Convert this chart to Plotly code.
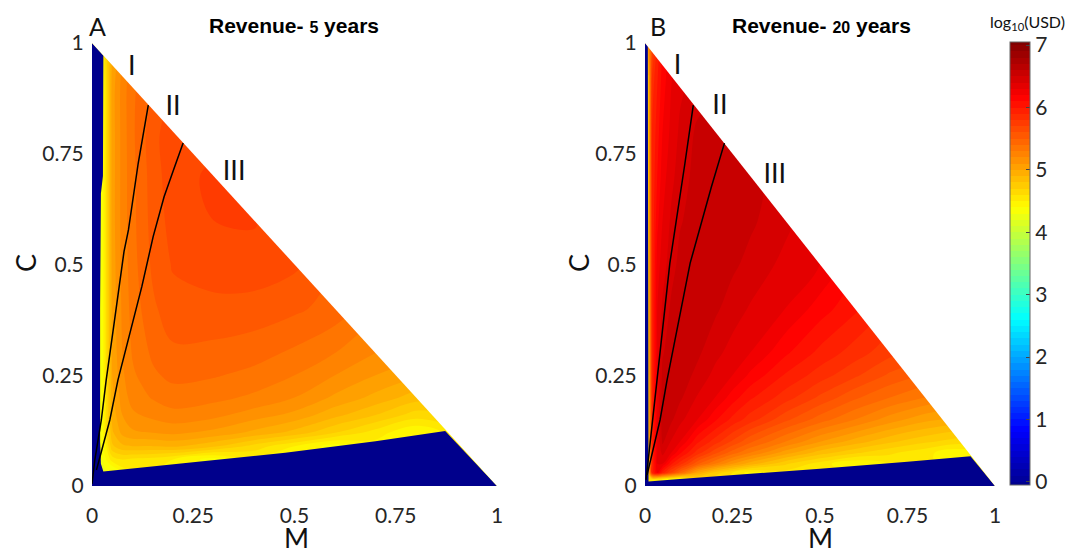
import plotly.graph_objects as go

N = None

# ---------------- Panel A : revenue after 5 years (log10 USD) ----------------
M_A = [0, 0.025, 0.035, 0.05, 0.075, 0.1, 0.15, 0.2, 0.3, 0.4, 0.5, 0.6, 0.7, 0.8, 0.9, 1.0]
C_A = [0, 0.035, 0.06, 0.09, 0.12, 0.16, 0.2, 0.25, 0.3, 0.4, 0.5, 0.6, 0.7, 0.8, 0.9, 1.0]
Z_A = [
    [N, N, N, N, N, N, N, N, N, N, N, N, N, N, N, N],
    [N, 4.3, 4.3, 4.3, N, N, N, N, N, N, N, N, N, N, N, N],
    [N, 4.3, 4.4, 4.55, 4.6, 4.58, 4.56, 4.5, 4.35, N, N, N, N, N, N, N],
    [N, 4.35, 4.5, 4.78, 4.88, 4.9, 4.9, 4.92, 4.82, 4.66, 4.5, 4.35, N, N, N, N],
    [N, 4.35, 4.58, 4.88, 5.03, 5.08, 5.1, 5.12, 5.07, 4.97, 4.86, 4.7, 4.55, 4.4, N, N],
    [N, 4.35, 4.6, 4.94, 5.1, 5.18, 5.23, 5.27, 5.23, 5.15, 5.07, 4.93, 4.8, 4.65, N, N],
    [N, 4.35, 4.6, 4.97, 5.15, 5.24, 5.31, 5.35, 5.33, 5.28, 5.2, 5.08, 4.97, 4.85, N, N],
    [N, 4.35, 4.6, 5.0, 5.18, 5.28, 5.38, 5.43, 5.41, 5.37, 5.3, 5.2, 5.1, N, N, N],
    [N, 4.35, 4.6, 5.02, 5.2, 5.31, 5.42, 5.48, 5.47, 5.44, 5.38, 5.3, 5.2, N, N, N],
    [N, 4.35, 4.6, 5.03, 5.22, 5.34, 5.48, 5.56, 5.57, 5.56, 5.52, 5.46, N, N, N, N],
    [N, 4.35, 4.6, 5.04, 5.23, 5.36, 5.52, 5.61, 5.65, 5.66, 5.62, N, N, N, N, N],
    [N, 4.35, 4.6, 5.05, 5.24, 5.37, 5.54, 5.64, 5.7, 5.71, N, N, N, N, N, N],
    [N, 4.35, 4.6, 5.05, 5.24, 5.37, 5.55, 5.66, 5.72, N, N, N, N, N, N, N],
    [N, 4.35, 4.6, 5.05, 5.24, 5.38, 5.56, 5.67, N, N, N, N, N, N, N, N],
    [N, 4.35, 4.6, 5.05, 5.24, 5.38, N, N, N, N, N, N, N, N, N, N],
    [N, N, N, N, N, N, N, N, N, N, N, N, N, N, N, N],
]
# zero-revenue zone (log10 = 0) outline
A_ZERO_M = [0, 0, 0.028, 0.027, 0.022, 0.02, 0.02, 0.022, 0.028, 0.2, 0.477, 0.7, 0.872, 1.0, 0]
A_ZERO_C = [0, 1.0, 0.972, 0.7, 0.66, 0.4, 0.1, 0.05, 0.033, 0.049, 0.075, 0.101, 0.124, 0, 0]
# boundary lines I / II
A_L1_M = [0.0, 0.007, 0.023, 0.035, 0.055, 0.079, 0.09, 0.114, 0.139]
A_L1_C = [0.005, 0.059, 0.149, 0.239, 0.37, 0.529, 0.578, 0.728, 0.86]
A_L2_M = [0.011, 0.044, 0.064, 0.095, 0.123, 0.151, 0.178, 0.201, 0.225]
A_L2_C = [0.036, 0.149, 0.239, 0.35, 0.45, 0.563, 0.653, 0.713, 0.774]

# ---------------- Panel B : revenue after 20 years (log10 USD) ----------------
M_B = [0, 0.01, 0.02, 0.035, 0.05, 0.075, 0.1, 0.15, 0.2, 0.25, 0.3, 0.4, 0.5, 0.6, 0.7, 0.8, 0.9, 1.0]
C_B = [0, 0.015, 0.03, 0.05, 0.075, 0.1, 0.15, 0.2, 0.25, 0.3, 0.4, 0.5, 0.6, 0.7, 0.8, 0.9, 1.0]
Z_B = [
    [N, N, N, N, N, N, N, N, N, N, N, N, N, N, N, N, N, N],
    [N, 4.6, 4.6, 4.55, 4.5, 4.4, 4.35, N, N, N, N, N, N, N, N, N, N, N],
    [N, 4.8, 5.9, 6.2, 5.95, 5.68, 5.45, 5.0, 4.75, 4.6, 4.45, N, N, N, N, N, N, N],
    [N, 4.8, 5.9, 6.3, 6.3, 6.02, 5.85, 5.52, 5.3, 5.1, 4.95, 4.72, 4.55, 4.4, N, N, N, N],
    [N, 4.8, 5.9, 6.3, 6.43, 6.3, 6.12, 5.85, 5.63, 5.45, 5.3, 5.05, 4.85, 4.72, 4.62, 4.53, 4.42, N],
    [N, 4.8, 5.9, 6.3, 6.52, 6.39, 6.3, 6.02, 5.85, 5.68, 5.52, 5.3, 5.1, 4.95, 4.82, 4.72, 4.65, N],
    [N, 4.8, 5.9, 6.3, 6.56, 6.52, 6.43, 6.3, 6.12, 5.97, 5.85, 5.63, 5.45, 5.3, 5.15, 5.03, N, N],
    [N, 4.8, 5.9, 6.3, 6.55, 6.57, 6.52, 6.39, 6.3, 6.15, 6.02, 5.85, 5.68, 5.52, 5.4, 5.3, N, N],
    [N, 4.8, 5.9, 6.3, 6.53, 6.57, 6.56, 6.47, 6.37, 6.3, 6.18, 5.99, 5.85, 5.72, 5.58, N, N, N],
    [N, 4.8, 5.9, 6.3, 6.49, 6.55, 6.57, 6.52, 6.43, 6.36, 6.3, 6.12, 5.97, 5.85, 5.73, N, N, N],
    [N, 4.8, 5.9, 6.3, 6.42, 6.52, 6.55, 6.57, 6.52, 6.45, 6.39, 6.3, 6.15, 6.02, N, N, N, N],
    [N, 4.8, 5.9, 6.25, 6.35, 6.46, 6.53, 6.57, 6.56, 6.52, 6.47, 6.37, 6.3, N, N, N, N, N],
    [N, 4.8, 5.9, 6.17, 6.3, 6.42, 6.49, 6.55, 6.57, 6.56, 6.52, 6.43, N, N, N, N, N, N],
    [N, 4.8, 5.9, 6.1, 6.25, 6.37, 6.45, 6.54, 6.57, 6.57, 6.55, N, N, N, N, N, N, N],
    [N, 4.8, 5.9, 6.05, 6.2, 6.33, 6.42, 6.52, 6.55, N, N, N, N, N, N, N, N, N],
    [N, 4.8, 5.85, 6.0, 6.15, 6.3, 6.38, N, N, N, N, N, N, N, N, N, N, N],
    [N, N, N, N, N, N, N, N, N, N, N, N, N, N, N, N, N, N],
]
B_ZERO_M = [0, 0, 0.008, 0.008, 0.01, 0.09, 0.25, 0.5, 0.75, 0.93, 1.0, 0]
B_ZERO_C = [0, 1.0, 0.992, 0.02, 0.01, 0.015, 0.024, 0.039, 0.055, 0.067, 0, 0]
B_L1_M = [0.003, 0.022, 0.036, 0.071, 0.114, 0.138]
B_L1_C = [0.014, 0.149, 0.239, 0.503, 0.728, 0.86]
B_L2_M = [0.006, 0.043, 0.063, 0.09, 0.129, 0.19, 0.227]
B_L2_C = [0.025, 0.149, 0.239, 0.35, 0.503, 0.676, 0.774]

# region labels
REGION_TEXT = ["I", "II", "III"]
A_LAB_M = [0.098, 0.2, 0.351]
A_LAB_C = [0.943, 0.853, 0.707]
B_LAB_M = [0.093, 0.214, 0.371]
B_LAB_C = [0.945, 0.855, 0.70]

# outside-triangle mask (M + C > 1)
MASK_M = [-0.05, 1.05, 1.05]
MASK_C = [1.05, -0.05, 1.05]

TICKS = [0, 0.25, 0.5, 0.75, 1]
TICK_TEXT = ["0", "0.25", "0.5", "0.75", "1"]
CBAR_TICKS = [0, 1, 2, 3, 4, 5, 6, 7]

JET = [[0.0, "rgb(0,0,143)"], [0.125, "rgb(0,0,255)"], [0.375, "rgb(0,255,255)"],
       [0.625, "rgb(255,255,0)"], [0.875, "rgb(255,0,0)"], [1.0, "rgb(128,0,0)"]]
ZERO_BLUE = "rgb(0,0,140)"

# page layout (browser body has an 8px margin, so the figure is 8px smaller)
OFF = 8
W, H = 1083 - OFF, 554 - OFF

fig = go.Figure()


def add_panel(mx, cy, z, zm, zc, l1m, l1c, l2m, l2c, labm, labc, xa, ya):
    fig.add_trace(go.Contour(
        x=mx, y=cy, z=z, coloraxis="coloraxis", connectgaps=True,
        autocontour=False,
        contours=dict(start=0, end=7, size=0.1, coloring="fill", showlines=False),
        line=dict(width=0), hoverinfo="skip", xaxis=xa, yaxis=ya))
    fig.add_trace(go.Scatter(x=zm, y=zc, mode="lines", fill="toself",
                             fillcolor=ZERO_BLUE, line=dict(width=0),
                             hoverinfo="skip", xaxis=xa, yaxis=ya))
    fig.add_trace(go.Scatter(x=MASK_M, y=MASK_C, mode="lines", fill="toself",
                             fillcolor="white", line=dict(width=0),
                             hoverinfo="skip", xaxis=xa, yaxis=ya))
    for lm, lc in ((l1m, l1c), (l2m, l2c)):
        fig.add_trace(go.Scatter(x=lm, y=lc, mode="lines",
                                 line=dict(color="black", width=1.5),
                                 hoverinfo="skip", xaxis=xa, yaxis=ya))
    fig.add_trace(go.Scatter(x=labm, y=labc, mode="text", text=REGION_TEXT,
                             textfont=dict(family="Lato", size=27, color="#111"),
                             hoverinfo="skip", cliponaxis=False,
                             xaxis=xa, yaxis=ya))


add_panel(M_A, C_A, Z_A, A_ZERO_M, A_ZERO_C, A_L1_M, A_L1_C, A_L2_M, A_L2_C,
          A_LAB_M, A_LAB_C, "x", "y")
add_panel(M_B, C_B, Z_B, B_ZERO_M, B_ZERO_C, B_L1_M, B_L1_C, B_L2_M, B_L2_C,
          B_LAB_M, B_LAB_C, "x2", "y2")


def px(x):
    return (x - OFF) / W


def py(y):
    return 1 - (y - OFF) / H


tickfont = dict(family="Lato", size=21, color="#262626")
xaxis_common = dict(range=[0, 1], tickvals=TICKS, ticktext=TICK_TEXT, showgrid=False,
                    zeroline=False, showline=False, ticks="outside", ticklen=11,
                    tickcolor="rgba(0,0,0,0)", tickfont=tickfont)
yaxis_common = dict(xaxis_common, ticklen=3)
ydom = [py(486), py(43)]

fig.update_layout(
    width=W, height=H, margin=dict(l=0, r=0, t=0, b=0, autoexpand=False),
    paper_bgcolor="white", plot_bgcolor="white", showlegend=False,
    xaxis=dict(domain=[px(92), px(497)], anchor="y", **xaxis_common),
    yaxis=dict(domain=ydom, anchor="x", **yaxis_common),
    xaxis2=dict(domain=[px(645), px(995)], anchor="y2", **xaxis_common),
    yaxis2=dict(domain=ydom, anchor="x2", **yaxis_common),
    coloraxis=dict(
        colorscale=JET, cmin=0, cmax=7,
        colorbar=dict(x=px(1010), xanchor="left", thickness=20, thicknessmode="pixels",
                      len=(485 - 42) / H, lenmode="fraction", y=py(263.5), yanchor="middle",
                      xpad=0, ypad=0,
                      tickvals=CBAR_TICKS, ticks="inside", ticklen=4, tickcolor="#444",
                      outlinewidth=1, outlinecolor="#666",
                      tickfont=tickfont)),
)

ann = []


def add_text(x, y, text, font, angle=0):
    ann.append(dict(x=px(x), y=py(y), xref="paper", yref="paper", showarrow=False,
                    xanchor="center", yanchor="middle", text=text, font=font,
                    textangle=angle))


title_font = dict(family="Liberation Sans", size=21, color="black")
add_text(294, 26, "<b>Revenue- <span style='font-size:16px'>5</span> years</b>", title_font)
add_text(821, 26, "<b>Revenue- <span style='font-size:16px'>20</span> years</b>", title_font)
letter_font = dict(family="Lato", size=25, color="#111")
add_text(97, 26, "A", letter_font)
add_text(658, 26, "B", letter_font)
lab_font = dict(family="Lato", size=27, color="#111")
for xm, xc in ((296, 25), (820, 578)):
    add_text(xm, 537, "M", lab_font)
    add_text(xc, 263, "C", lab_font, -90)
add_text(1027, 22, "log<sub>10</sub>(USD)", dict(family="Lato", size=16, color="#111"))
fig.update_layout(annotations=ann)

fig.write_html("out.html")
